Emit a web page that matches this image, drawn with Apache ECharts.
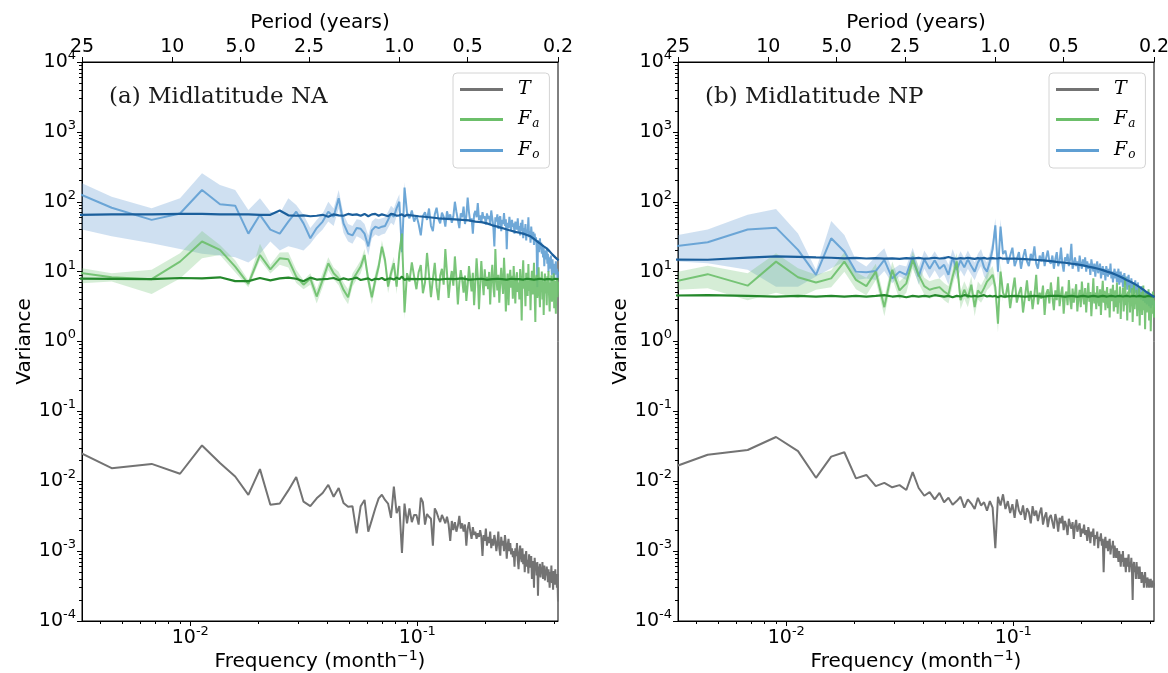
<!DOCTYPE html>
<html><head><meta charset="utf-8">
<script src="https://cdn.jsdelivr.net/npm/echarts@6/dist/echarts.min.js"></script>
<style>html,body{margin:0;padding:0;background:#fff}#c{width:1168px;height:673px}</style>
</head><body><div id="c"></div>
<script>
// ---------- axes / ticks ----------
const N_MONTHS = 444;                 // spectral resolution: frequency index k -> k/444 month^-1
const X_MIN = 1 / 300, X_MAX = 1 / 2.4;
const PERIOD_TICKS = [25, 10, 5, 2.5, 1, 0.5, 0.2];
const PERIOD_LABELS = ['25', '10', '5.0', '2.5', '1.0', '0.5', '0.2'];
const FREQ_TICKS = [0.01, 0.1];
const FREQ_MINOR = [0.004,0.005,0.006,0.007,0.008,0.009,0.02,0.03,0.04,0.05,0.06,0.07,0.08,0.09,0.2,0.3,0.4];
const VAR_TICKS = [1e-4, 1e-3, 1e-2, 1e-1, 1, 10, 100, 1000, 10000];
const VAR_MINOR = [];
for (let e = -4; e < 4; e++) for (let m = 2; m <= 9; m++) VAR_MINOR.push(m * Math.pow(10, e));
const PANEL_TITLES = ['(a) Midlatitude NA', '(b) Midlatitude NP'];
const SMOOTH_K = [1,2,3,4,5,6,7,8,9,10,11,12,13,14,15,16,17,18,19,20,21,22,23,24,25,26,27,28,29,30,31,32,33,34,35,36,37,38,39,40,
  45,50,55,60,65,70,75,80,85,90,95,100,105,110,115,120,125,130,135,140,145,150,155,160,165,170,175,180,186];

// ---------- panel (a) Midlatitude NA ----------
const T_A = [0.046,0.0154,0.0177,0.0128,0.0325,0.0182,0.0117,0.0064,0.0149,0.0046,
 0.0048,0.0074,0.0115,0.0051,0.0044,0.0057,0.0068,0.0089,0.0060,0.0080,
 0.0049,0.0043,0.0044,0.0018,0.0044,0.0054,0.0019,0.0028,0.0041,0.0057,
 0.0064,0.0054,0.0048,0.0030,0.0084,0.0035,0.0044,0.00094,0.0048,0.0025,
 0.0041,0.0026,0.0033,
 0.0033,0.0024,0.0058,0.0050,0.0024,0.0034,0.0031,0.0029,0.0012,0.0041,0.0036,0.0030,0.0026,0.0033,0.0029,0.0025,
 0.0031,0.0024,0.0014,0.0027,0.0020,0.0026,0.0019,0.0023,0.0032,0.0021,0.0025,0.0019,
 0.0024,0.0012,0.0021,0.0026,0.0019,0.0015,0.0022,0.0017,0.0019,0.0015,0.0018,0.0016,0.0020,
 0.0016,0.00085,0.0017,0.0014,0.0021,0.0012,0.0016,0.0013,0.0019,0.0011,0.0015,0.0012,0.0017,0.0014,0.0010,
 0.0013,0.0019,0.0011,0.00086,0.0016,0.0012,0.0014,0.0010,0.0017,0.0013,0.00078,0.0012,0.0015,0.0010,0.0013,0.00090,0.0011,0.00082,
 0.0010,0.00060,0.0011,0.00085,0.0013,0.00075,0.00055,0.00095,0.0012,0.00080,0.00070,0.0011,0.00065,0.00090,0.00050,0.00085,0.0010,0.00060,0.00075,0.00048,0.00090,0.00070,
 0.00058,0.00085,0.00040,0.00072,0.00065,0.00030,0.00080,0.00055,0.00068,0.00045,0.00070,0.00023,0.00060,0.00050,0.00066,0.00042,0.00058,0.00048,0.00070,0.00040,0.00055,0.00062,0.00038,0.00052,0.00045,0.00060,
 0.00048,0.00036,0.00055,0.00042,0.00030,0.00050,0.00040,0.00062,0.00035,0.00046,0.00028,0.00052,0.00040,0.00033,0.00055,0.00036,0.00044,0.00030,0.00047,0.00019,0.00032];
const FA_A = [11.4,8.3,7.8,13.9,27,20.5,11.8,6.7,17.3,10.8,15.5,15,8.5,6.5,8,4.4,7.6,13.2,9.5,8,
 5.5,4.3,7.6,9.5,11.8,17.3,7.6,4.3,7.6,11.8,22.8,14.7,6.1,9.5,13.2,6.1,18.3,35,2.6,9.5,
 7.2,13.6,8.5,5.6,9.8,12.4,4.9,7.0,18.5,9.0,4.3,7.9,13.4,6.0,3.9,8.8,11.0,6.5,21,9.5,4.2,7.4,10.2,6.3,
 16.5,8.1,3.4,6.9,10.5,7.6,5.0,8.8,3.8,6.4,12.0,7.7,5.2,9.6,3.3,7.0,15.5,8.3,2.9,6.6,14.2,7.5,4.6,10.8,6.2,8.4,
 5.6,9.9,3.4,7.8,12.5,6.1,4.3,21,8.2,5.4,9.0,3.6,7.2,11.3,6.7,4.8,15.8,8.0,2.7,6.3,9.4,3.3,7.6,10.6,5.9,8.7,4.1,12.0,6.5,3.5,7.9,9.8,5.1,7.0,
 4.0,10.9,6.2,2.0,8.3,14.5,5.7,7.4,3.2,9.6,6.8,4.5,12.8,5.3,8.0,2.8,7.1,10.3,4.7,6.6,13.4,5.0,1.9,7.7,9.0,4.2,6.0,11.5,5.5,3.1,
 8.2,6.4,10.0,4.0,7.3,2.4,6.8,9.4,4.9,5.8,3.3,8.6,6.1,10.2,4.4,2.7,7.0,5.3,8.9,3.7,6.3,4.6,9.5,3.0,7.4,5.1,2.5,6.7,8.0,4.3,5.6,7.2];
const FO_A = [216,82,55,68,147,92,88,35,65,40,35,52,72,49,30,42,52,72,61,112,
 49,35,33,42,41,35,23,39,44,42,44,45,55,67,61,81,100,19,160,
 70,58,75,52,64,48,33,62,71,55,80,45,38,66,82,57,49,70,61,44,73,58,66,50,62,
 100,72,55,42,68,60,85,48,62,115,70,52,58,35,66,74,60,96,55,64,50,71,58,62,47,68,
 57,63,48,75,58,44,23,60,52,66,41,58,62,38,55,48,69,45,56,21,50,42,61,47,39,55,44,49,35,52,46,40,58,37,
 45,33,50,38,55,30,42,36,48,28,40,35,60,31,38,26,44,33,29,37,24,35,27,31,22,6,28,25,19,30,
 21,26,18,24,16,22,12,20,17,15,21,13,18,10,16,14,11,17,12,9,15,11,13,8,12,10,14,9,11,8,10,9];
const FA_SMOOTH_A = [8.0,7.9,7.8,8.1,8.0,8.3,7.3,7.3,8.1,7.5,8.0,8.2,7.9,7.3,8.2,7.7,7.8,7.9,8.1,7.6,
 8.0,7.7,7.9,8.2,7.6,7.8,8.0,7.5,7.9,7.8,8.1,7.6,7.9,8.0,7.7,8.2,7.8,8.5,7.6,7.9,
 7.8,7.9,7.7,7.9,7.8,8.0,7.7,7.8,7.9,7.7,7.8,7.9,7.8,7.7,7.9,7.8,7.8,7.7,7.9,7.8,7.7,7.8,7.9,7.7,7.8,7.8,7.7,7.9,7.8];
const FO_SMOOTH_A = [64,66,66,67,67,66,66,66,65,65,75,64,63,64,62,63,65,61,66,64,
 63,67,65,66,63,67,62,66,67,63,66,64,62,67,66,63,64,66,62,65,
 62,60,58,57,56,55,54,52,51,49,46,44,42,40,38.5,37,36,35,33.5,32,29.5,27,25,23,21.5,19.5,17.5,16,14.5];
const FA_HI_A = [13.8,9.5,10.6,18.3,38,24,14.5,7.5,25,12.5,18.8,19,10.6,7.5,9.5,5.6,9.6,16,11.5,10,
 7.0,5.6,9.4,11.6,14.5,21,9.5,5.5,9.6,14.5,28,18,7.6,11.8,16.3,7.6,22,42,3.3,11.5];
const FA_LO_A = [6.3,7.2,4.8,8,15.6,17.3,9.8,6.0,14.7,9.4,12.5,11.5,6.9,5.6,6.5,3.5,6.0,10.5,7.8,6.4,
 4.3,3.4,6.1,7.7,9.5,13.8,6.0,3.4,6.0,9.5,18,11.8,4.9,7.6,10.6,4.8,14.8,29,2.1,7.8];
const FO_HI_A = [327,118,81,112,255,174,147,76,112,72,68,112,90,65,42,55,68,100,80,147,
 66,48,45,56,55,48,33,52,58,56,58,60,72,88,80,104,128,26,190,84];
const FO_LO_A = [54,32,25.5,21,18,17,16,13.5,18,27,20,23,21.6,20,25,33,40,52,45,80,
 36,27,25,32,30,27,17,30,34,32,34,35,42,50,46,62,78,14,130,58];

// ---------- panel (b) Midlatitude NP ----------
const T_B = [0.0106,0.0239,0.028,0.043,0.027,0.0112,0.0225,0.026,0.011,0.0123,
 0.0085,0.0095,0.0082,0.0088,0.0075,0.0135,0.0080,0.0062,0.0070,0.0055,
 0.0068,0.0050,0.0058,0.0046,0.0052,0.0060,0.0042,0.0055,0.0048,0.0040,
 0.0058,0.0045,0.0050,0.0038,0.0052,0.0042,0.0011,0.0060,0.0045,0.0065,
 0.0040,0.0052,0.0035,0.0047,0.0030,0.0055,0.0038,0.0033,0.0045,0.0028,0.0041,0.0036,0.0025,0.0044,0.0032,0.0038,0.0027,0.0035,0.0042,0.0024,0.0031,0.0036,0.0022,0.0030,
 0.0033,0.0026,0.0021,0.0034,0.0028,0.0019,0.0030,0.0025,0.0032,0.0020,0.0027,0.0023,0.0017,0.0029,0.0024,0.0021,0.0026,0.0015,0.0023,0.0028,0.0019,0.0022,0.0025,0.0016,0.0021,0.0018,
 0.0024,0.0017,0.0020,0.0014,0.0022,0.0018,0.0013,0.0019,0.0016,0.0021,0.0012,0.0017,0.0015,0.0019,0.0011,0.0016,0.0014,0.0018,0.0012,0.0015,0.0005,0.0013,0.0016,0.0011,0.0014,0.0010,0.0013,0.0015,0.0009,0.0012,0.0011,0.0014,0.0008,0.0012,
 0.0010,0.0008,0.0011,0.0009,0.0007,0.0010,0.0008,0.0006,0.0009,0.0007,0.0010,0.0006,0.0008,0.0007,0.0005,0.0008,0.0006,0.0007,0.0009,0.0005,
 0.0007,0.0006,0.0008,0.0005,0.0002,0.0006,0.0007,0.0005,0.0006,0.0004,0.0007,0.0005,0.0006,0.0004,0.0005,0.0006,0.0004,0.0005,0.00035,0.0005,
 0.0004,0.00045,0.0003,0.0004,0.0005,0.00035,0.0004,0.0003,0.00042,0.00036,0.0004,0.0003,0.00038,0.00033,0.0004,0.0003,0.00036,0.00032,0.00038,0.0003,0.00035,0.00032];
const FA_B = [5.6,9.2,6.3,13.9,8.3,7.0,8.0,13.9,7.6,6.2,10,3.1,10.6,5.4,6.8,
 14.7,9.0,6.2,5.5,5.8,6.0,5.2,4.7,8.5,14.0,3.9,5.5,4.2,6.5,3.1,5.4,4.8,5.8,7.2,8.0,9.0,6.0,1.8,10,5,
 4.2,6.8,3.0,5.1,8.2,3.6,4.9,6.0,2.6,4.4,7.5,3.8,5.3,2.9,4.6,9.0,3.4,5.0,4.1,6.3,2.4,4.8,5.6,3.5,
 7.0,4.3,2.8,5.4,3.9,8.4,3.2,4.7,6.1,2.5,4.5,5.2,3.3,7.6,4.0,2.9,5.7,3.6,4.9,6.6,2.7,4.2,5.5,3.1,7.2,4.4,
 3.4,5.8,2.6,4.6,6.9,3.7,5.1,2.3,4.3,8.0,3.5,5.0,2.9,6.2,4.0,3.2,5.6,2.4,4.7,7.4,3.6,5.3,2.8,4.5,6.0,3.0,4.9,2.2,5.7,3.8,4.4,6.5,2.7,4.1,
 5.4,3.1,7.0,2.5,4.6,3.6,6.1,2.1,4.8,3.9,5.9,2.7,4.3,8.2,3.3,4.9,2.0,5.2,3.7,6.4,2.6,4.4,3.2,5.8,1.9,4.0,6.8,2.9,4.7,3.5,
 5.5,2.3,4.2,3.0,6.0,1.7,4.5,3.4,5.1,2.4,3.9,6.3,2.8,4.6,1.5,3.6,5.0,2.6,4.1,3.1,5.6,2.0,3.8,4.8,1.4,3.3,4.4,2.5,5.2,3.0,2.2,3.9];
const FO_B = [19.9,26.3,40,42.6,20.5,9.0,30,19.4,10,9.8,10.2,14.7,8,10,9,
 16.4,8.5,15,11,14.5,11,12.5,9.0,16,10.6,14.5,11.5,15,12,10,13.5,16,11.5,10,14,21,46,10,44,18,
 20,13,17,22,12,15,19,11,16,21,14,12,18,15,23,13,11,17,14,19,12,16,20,14,
 13,17,11,15,19,12,14,22,13,10,16,14,18,12,15,25,11,13,16,12,14,10,17,13,11,15,
 12,16,10,14,11,13,9,15,12,10,13,8.5,12,14,9.5,11,13,8,10,12,9,11,7.5,12,10,8.5,11,9,13,8,10,7,9.5,11,
 8,10,7,9,11,6.5,8.5,10,7,9,6,8,9.5,7,6.5,8.5,5.5,7.5,9,6,7,5,8,6.5,5.5,7,4.8,6.5,7.5,5,
 6,4.5,7,5.5,4.2,6,5,4,6.2,4.6,5.2,3.8,5.5,4.4,3.6,5,4.2,3.4,4.8,3.9,4.5,3.2,4.3,3.7,3,4.1,3.5,4.4,3.3,3.8,3.1,3.6];
const FA_SMOOTH_B = [4.5,4.6,4.5,4.4,4.5,4.4,4.5,4.4,4.5,4.4,4.5,4.6,4.4,4.5,4.3,4.5,4.4,4.5,4.4,4.6,
 4.5,4.4,4.5,4.3,4.5,4.4,4.6,4.5,4.4,4.5,4.4,4.5,4.6,4.4,4.5,4.4,4.5,4.3,4.5,4.4,
 4.5,4.4,4.5,4.4,4.5,4.5,4.4,4.5,4.4,4.5,4.4,4.5,4.4,4.5,4.4,4.5,4.4,4.5,4.4,4.5,4.4,4.5,4.4,4.5,4.4,4.4,4.5,4.4,4.5];
const FO_SMOOTH_B = [15.0,14.8,15.9,16.5,16.3,16.0,15.8,15.5,15.7,15.4,15.6,15.3,15.5,15.2,15.6,15.4,15.7,15.3,15.5,15.8,
 15.4,15.6,16.2,15.5,15.3,15.6,15.4,15.8,15.5,15.2,15.6,15.4,15.7,15.3,15.5,15.6,15.4,15.5,15.7,15.3,
 15.3,15.1,14.8,14.5,14.1,13.7,13.4,13.0,12.7,12.3,11.8,11.4,11.0,10.5,10.0,9.6,9.1,8.6,8.1,7.6,7.2,6.8,6.4,6.0,5.6,5.2,4.9,4.6,4.3];
const FA_HI_B = [7.8,12.1,9.5,18.3,11.2,9.0,10.5,19,9.8,8.2,13,4.2,14,7.2,9,19.5,12,8.2,7.3,7.7,
 8,6.9,6.2,11.3,18.5,5.2,7.3,5.6,8.6,4.1,7.2,6.4,7.7,9.6,10.6,12,8,2.4,13.3,6.6];
const FA_LO_B = [5.1,5.8,3.9,5.0,4.2,5.5,6.0,10,5.6,4.6,7.5,2.3,8,4.0,5,11,6.8,4.7,4.1,4.4,
 4.5,3.9,3.5,6.4,10.5,2.9,4.1,3.1,4.9,2.3,4.0,3.6,4.3,5.4,6,6.7,4.5,1.35,7.5,3.7];
const FO_HI_B = [26.6,40,65,79,35,10.6,53,33.5,14.7,11.8,16.4,21.6,10.6,12.5,11.8,22,11.5,20,15,19.5,
 15,17,12.5,21,14.5,19.5,15.5,20,16,13.5,18,21,15.5,13.5,19,28,58,13.5,56,23];
const FO_LO_B = [14.9,13.2,10.6,6.1,6.1,8.5,11.2,13.9,7.6,8.0,7.6,10.2,6.8,8.5,7.6,12,6.5,11,8,10.5,
 8,9.2,6.5,12,7.8,10.5,8.5,11,9,7.5,10,12,8.5,7.5,10.5,16,36,7,34,13];

const PANELS = [
  {T: T_A, Fa: FA_A, Fo: FO_A, FaS: FA_SMOOTH_A, FoS: FO_SMOOTH_A, FaHi: FA_HI_A, FaLo: FA_LO_A, FoHi: FO_HI_A, FoLo: FO_LO_A},
  {T: T_B, Fa: FA_B, Fo: FO_B, FaS: FA_SMOOTH_B, FoS: FO_SMOOTH_B, FaHi: FA_HI_B, FaLo: FA_LO_B, FoHi: FO_HI_B, FoLo: FO_LO_B}
];

// ---------- styling ----------
const C = {
  T: '#737373', Fa: '#6cbf6a', Fo: '#5f9fd3', FaDark: '#24882b', FoDark: '#1b5f9c',
  FaBand: 'rgba(116,196,118,0.30)', FoBand: 'rgba(107,160,212,0.32)'
};
const SANS = 'DejaVu Sans';
const SERIF = 'DejaVu Serif';
const GRIDS = [{left: 82, top: 62, width: 476, height: 559}, {left: 678, top: 62, width: 476, height: 559}];

function seq(vals) { return vals.map((v, i) => [(i + 1) / N_MONTHS, v]); }
function seqK(vals, ks) { return vals.map((v, i) => [ks[i] / N_MONTHS, v]); }
function expOf(v) { return Math.round(Math.log10(v)); }
const supRich = {
  b: {fontFamily: SANS, fontSize: 19, color: '#000'},
  s: {fontFamily: SANS, fontSize: 13, color: '#000', padding: [0, 0, 13, 0]}
};

// shaded band between lo and hi, positioned through the axes' own scales
function bandSeries(p, hi, lo, color) {
  return {
    type: 'custom', xAxisIndex: 3 * p, yAxisIndex: 2 * p, silent: true, animation: false, clip: true,
    data: [[0.01, 1]], encode: {x: 0, y: 1},
    renderItem: (params, api) => {
      const pts = [];
      for (let i = 0; i < hi.length; i++) pts.push(api.coord([(i + 1) / N_MONTHS, hi[i]]));
      for (let i = lo.length - 1; i >= 0; i--) pts.push(api.coord([(i + 1) / N_MONTHS, lo[i]]));
      const cs = params.coordSys;
      return {type: 'polygon', shape: {points: pts}, style: {fill: color, stroke: null},
        clipPath: {type: 'rect', shape: {x: cs.x, y: cs.y, width: cs.width, height: cs.height}}};
    }
  };
}

const grid = [], xAxis = [], yAxis = [], series = [], title = [], legend = [];
GRIDS.forEach((g, p) => {
  grid.push(Object.assign({show: true, borderColor: '#000', borderWidth: 1, backgroundColor: 'transparent', containLabel: false, outerBoundsMode: 'none'}, g));
  xAxis.push({gridIndex: p, type: 'log', logBase: 10, min: X_MIN, max: X_MAX, position: 'bottom',
    name: 'Frequency (month{s|−1})', nameLocation: 'middle', nameGap: 28, nameMoveOverlap: false,
    nameTextStyle: {fontFamily: SANS, fontSize: 20, color: '#000',
      rich: {s: {fontFamily: SANS, fontSize: 14, color: '#000', padding: [0, 0, 12, 0]}}},
    axisLine: {show: true, lineStyle: {color: '#000', width: 1}},
    axisTick: {show: true, customValues: FREQ_TICKS, length: 5, lineStyle: {color: '#000', width: 1}},
    axisLabel: {show: true, customValues: FREQ_TICKS, margin: 4, formatter: v => '{b|10}{s|-' + Math.abs(expOf(v)) + '}', rich: supRich},
    splitLine: {show: false}, minorTick: {show: false}});
  xAxis.push({gridIndex: p, type: 'log', min: X_MIN, max: X_MAX, position: 'bottom',
    axisLine: {show: false}, axisLabel: {show: false}, splitLine: {show: false},
    axisTick: {show: true, customValues: FREQ_MINOR, length: 3, lineStyle: {color: '#000', width: 1}}});
  xAxis.push({gridIndex: p, type: 'log', min: 0.19999, max: 25.0001, inverse: true, position: 'top',
    name: 'Period (years)', nameLocation: 'middle', nameGap: 29, nameMoveOverlap: false,
    nameTextStyle: {fontFamily: SANS, fontSize: 20, color: '#000'},
    axisLine: {show: true, lineStyle: {color: '#000', width: 1}},
    axisTick: {show: true, customValues: PERIOD_TICKS, length: 5, lineStyle: {color: '#000', width: 1}},
    axisLabel: {show: true, customValues: PERIOD_TICKS, margin: 5, fontFamily: SANS, fontSize: 19, color: '#000',
      formatter: v => { let best = 0; PERIOD_TICKS.forEach((t, i) => { if (Math.abs(Math.log(v / t)) < Math.abs(Math.log(v / PERIOD_TICKS[best]))) best = i; }); return PERIOD_LABELS[best]; }},
    splitLine: {show: false}});
  yAxis.push({gridIndex: p, type: 'log', logBase: 10, min: 0.99999e-4, max: 1.00001e4, position: 'left',
    name: 'Variance', nameLocation: 'middle', nameGap: 47, nameRotate: 90, nameMoveOverlap: false,
    nameTextStyle: {fontFamily: SANS, fontSize: 20, color: '#000'},
    axisLine: {show: true, lineStyle: {color: '#000', width: 1}},
    axisTick: {show: true, customValues: VAR_TICKS, length: 5, lineStyle: {color: '#000', width: 1}},
    axisLabel: {show: true, customValues: VAR_TICKS, margin: 6, formatter: v => '{b|10}{s|' + expOf(v) + '}', rich: supRich},
    splitLine: {show: false}});
  yAxis.push({gridIndex: p, type: 'log', min: 0.99999e-4, max: 1.00001e4, position: 'left',
    axisLine: {show: false}, axisLabel: {show: false}, splitLine: {show: false},
    axisTick: {show: true, customValues: VAR_MINOR, length: 3, lineStyle: {color: '#000', width: 1}}});

  const d = PANELS[p];
  const base = {type: 'line', xAxisIndex: 3 * p, yAxisIndex: 2 * p, symbol: 'none', showSymbol: false, silent: true, animation: false};
  series.push(bandSeries(p, d.FoHi, d.FoLo, C.FoBand));
  series.push(bandSeries(p, d.FaHi, d.FaLo, C.FaBand));
  series.push(Object.assign({}, base, {name: 'Fo', data: seq(d.Fo), itemStyle: {color: C.Fo}, lineStyle: {color: C.Fo, width: 2, opacity: 0.9}}));
  series.push(Object.assign({}, base, {name: 'Fa', data: seq(d.Fa), itemStyle: {color: C.Fa}, lineStyle: {color: C.Fa, width: 2, opacity: 0.9}}));
  series.push(Object.assign({}, base, {name: 'faS' + p, data: seqK(d.FaS, SMOOTH_K), lineStyle: {color: C.FaDark, width: 2.2}}));
  series.push(Object.assign({}, base, {name: 'foS' + p, data: seqK(d.FoS, SMOOTH_K), lineStyle: {color: C.FoDark, width: 2.2}}));
  series.push(Object.assign({}, base, {name: 'T', data: seq(d.T), itemStyle: {color: C.T}, lineStyle: {color: C.T, width: 2}}));

  title.push({text: PANEL_TITLES[p], left: g.left + 27, top: 86, padding: 0,
    textStyle: {fontFamily: SERIF, fontSize: 23, fontWeight: 'normal', color: '#1a1a1a'}});
  legend.push({show: true, left: g.left + 371, top: 73, orient: 'vertical', selectedMode: false,
    padding: [7, 10, 7, 7], itemGap: 11, itemWidth: 43, itemHeight: 3,
    borderColor: '#d4d4d4', borderWidth: 1, borderRadius: 4, backgroundColor: 'rgba(255,255,255,0.85)',
    data: [{name: 'T', icon: 'rect'}, {name: 'Fa', icon: 'rect'}, {name: 'Fo', icon: 'rect'}],
    formatter: n => n === 'T' ? '{i|T}' : '{i|F}{sub|' + (n === 'Fa' ? 'a' : 'o') + '}',
    textStyle: {padding: [0, 0, 0, 10], rich: {
      i: {fontFamily: SERIF, fontStyle: 'italic', fontSize: 19, color: '#000'},
      sub: {fontFamily: SERIF, fontStyle: 'italic', fontSize: 12, color: '#000', padding: [9, 0, 0, 1]}
    }}});
});

const chart = echarts.init(document.getElementById('c'), null, {renderer: 'canvas'});
chart.setOption({animation: false, backgroundColor: '#fff', grid, xAxis, yAxis, series, title, legend});
</script></body></html>
